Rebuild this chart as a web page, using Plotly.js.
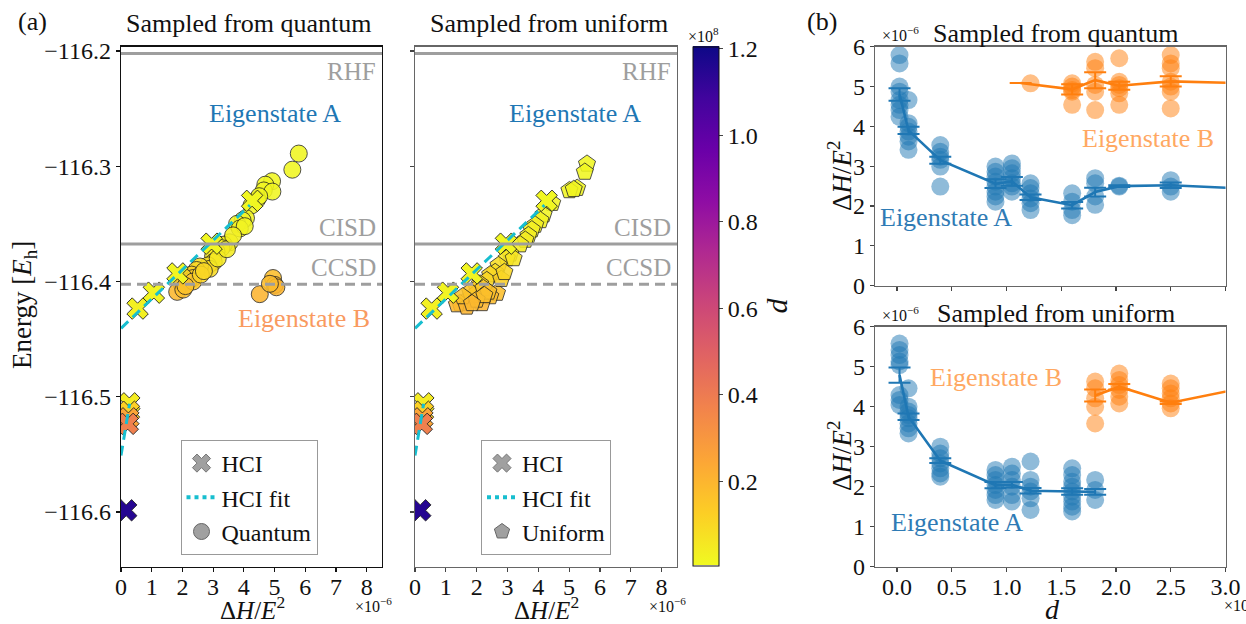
<!DOCTYPE html>
<html><head><meta charset="utf-8">
<script src="https://cdn.plot.ly/plotly-3.0.1.min.js"></script>
<style>html,body{margin:0;padding:0;background:#fff}#chart{width:1246px;height:624px}</style>
</head><body><div id="chart"></div>
<script>
// ---------- Panel (a): energies vs ΔH/E² (x in units of 1e-6, d in units of 1e8) ----------
const refRHF = -116.2021;
const refCISD = -116.3675;
const refCCSD = -116.4024;

const hciX = [0.54, 1.07, 1.84, 2.95, 4.27, 0.27, 0.26, 0.24, 0.22, 0.17];
const hciY = [-116.4235, -116.4097, -116.393, -116.3672, -116.330, -116.5057, -116.513, -116.5187, -116.5235, -116.5985];
const hciD = [0.03, 0.02, 0.015, 0.012, 0.01, 0.04, 0.12, 0.25, 0.38, 1.15];

const fitAX = [0, 4.2];
const fitAY = [-116.4406, -116.3338];
const fitBX = [0, 0.28];
const fitBY = [-116.551, -116.506];

const qX = [5.79,5.58,4.92,4.70,4.65,4.93,4.43,4.25,4.50,4.07,3.96,3.78,3.87,4.03,3.54,3.35,3.27,3.11,3.00,3.02,2.84,2.89,2.57,2.46,2.30,2.35,2.19,2.03,1.97,1.83,2.03,2.35,2.60,3.15,3.45,3.65,2.70,2.10,
            4.52,4.95,5.01,5.06,4.85];
const qY = [-116.289,-116.303,-116.313,-116.316,-116.321,-116.322,-116.329,-116.334,-116.326,-116.345,-116.347,-116.350,-116.354,-116.352,-116.366,-116.368,-116.371,-116.374,-116.378,-116.383,-116.386,-116.389,-116.387,-116.390,-116.394,-116.397,-116.400,-116.396,-116.402,-116.409,-116.407,-116.400,-116.394,-116.380,-116.372,-116.360,-116.391,-116.404,
            -116.411,-116.397,-116.403,-116.405,-116.402];
const qD = [0.01,0.01,0.01,0.01,0.012,0.01,0.015,0.015,0.01,0.02,0.02,0.02,0.025,0.02,0.03,0.035,0.04,0.05,0.06,0.07,0.08,0.09,0.08,0.10,0.12,0.13,0.14,0.10,0.15,0.19,0.17,0.15,0.11,0.05,0.04,0.03,0.10,0.16,
            0.20,0.17,0.19,0.20,0.18];

const uX = [5.58,5.51,5.26,5.01,5.15,4.45,4.17,4.07,3.90,3.79,3.68,3.58,3.41,3.09,2.98,2.71,2.60,2.44,2.33,2.11,2.01,2.66,2.44,2.17,1.90,1.68,1.46,1.36,1.79,2.22,2.38,1.68,1.55,2.00,2.25,1.85,2.80,3.20,2.90];
const uY = [-116.298,-116.305,-116.319,-116.321,-116.320,-116.332,-116.342,-116.347,-116.351,-116.355,-116.360,-116.364,-116.368,-116.376,-116.380,-116.386,-116.392,-116.394,-116.399,-116.402,-116.406,-116.410,-116.413,-116.419,-116.412,-116.416,-116.419,-116.420,-116.409,-116.406,-116.409,-116.422,-116.413,-116.416,-116.412,-116.419,-116.398,-116.380,-116.392];
const uD = [0.01,0.01,0.015,0.015,0.015,0.02,0.02,0.025,0.03,0.03,0.035,0.04,0.04,0.05,0.06,0.08,0.08,0.10,0.10,0.12,0.13,0.17,0.18,0.20,0.16,0.17,0.18,0.19,0.15,0.14,0.16,0.20,0.16,0.18,0.17,0.19,0.12,0.06,0.10];

// ---------- Panel (b): ΔH/E² (×1e-6) vs d (×1e7) ----------
const qA_d = [0.024,0.106,0.396,0.9,1.05,1.22,1.6,1.81,2.03,2.5];
const qA_vals = [[5.79,5.58,5.0,4.87,4.66,4.54,4.41,4.24],[4.66,4.08,3.99,3.87,3.74,3.62,3.41],[3.53,3.36,3.24,3.16,2.99,2.49],
  [2.99,2.86,2.74,2.61,2.49,2.36,2.24,2.11],[3.07,2.95,2.82,2.7,2.57,2.49,2.36],[2.57,2.45,2.32,2.19,2.07,1.9],
  [2.32,2.11,1.9,1.77],[2.7,2.57,2.24,2.03],[2.51,2.49],[2.65,2.49,2.36]];
const qA_meanX = [0.024,0.106,0.396,0.9,1.05,1.22,1.6,1.81,2.03,2.5,3.4];
const qA_mean = [4.8,3.9,3.15,2.56,2.62,2.22,2.02,2.35,2.5,2.52,2.41];
const qA_err = [0.16,0.09,0.09,0.11,0.11,0.07,0.08,0.11,0.02,0.07,0];

const qB_d = [1.22,1.6,1.81,2.03,2.5];
const qB_vals = [[5.08],[5.08,5.0,4.91,4.87,4.54],[5.62,5.46,5.04,4.87,4.41],[5.71,5.12,5.04,4.96,4.83,4.54],[5.79,5.58,5.46,5.12,5.0,4.87,4.45]];
const qB_meanX = [1.13,1.6,1.81,2.03,2.5,3.4];
const qB_mean = [5.09,4.93,5.16,5.02,5.13,5.07];
const qB_err = [0,0.13,0.2,0.1,0.13,0];

const uA_d = [0.024,0.106,0.396,0.9,1.05,1.22,1.6,1.81];
const uA_vals = [[5.58,5.42,5.29,5.13,5.04,4.29,4.17,4.04],[4.46,4.0,3.88,3.79,3.71,3.58,3.46,3.33],[3.0,2.83,2.71,2.58,2.46,2.33,2.25],
  [2.42,2.29,2.17,2.04,1.92,1.79,1.67],[2.5,2.33,2.17,2.0,1.79,1.63],[2.63,2.17,2.0,1.88,1.71,1.42],
  [2.46,2.29,2.125,2.0,1.88,1.75,1.63,1.5,1.38],[2.17,1.92,1.67]];
const uA_meanX = [0.024,0.106,0.396,0.9,1.05,1.22,1.6,1.81];
const uA_mean = [4.79,3.75,2.65,2.04,2.05,1.9,1.88,1.87];
const uA_err = [0.19,0.08,0.06,0.08,0.07,0.07,0.08,0.07];

const uB_d = [1.81,2.03,2.5];
const uB_vals = [[4.63,4.46,4.21,4.0,3.58],[4.83,4.67,4.54,4.42,4.25,4.08],[4.58,4.46,4.33,4.21,4.08,3.96]];
const uB_meanX = [1.81,2.03,2.5,3.4];
const uB_mean = [4.28,4.5,4.1,4.6];
const uB_err = [0.15,0.07,0.03,0];

// ---------- styling ----------
const W = 1246, H = 624;
const FONT = 'Liberation Serif, Times New Roman, serif';
const BLUE = '#1f77b4', ORANGE = '#ff7f0e', CYAN = '#17becf', REFGRAY = '#9e9e9e';
const plasmaR = [[0,'#f0f921'],[0.1,'#fcce25'],[0.2,'#fca636'],[0.3,'#f2844b'],[0.4,'#e16462'],[0.5,'#cc4778'],[0.6,'#b12a90'],[0.7,'#8f0da4'],[0.8,'#6a00a8'],[0.9,'#41049d'],[1,'#0d0887']];
const px = v => v / W, py = v => 1 - v / H;

function flat(ds, vals) {
  const x = [], y = [];
  ds.forEach((d, i) => vals[i].forEach(v => { x.push(d); y.push(v); }));
  return {x, y};
}

const traces = [];
function panelA(xa, ya, sx, sy, sd, symbol, legendName, legendId) {
  traces.push({x: sx, y: sy, xaxis: xa, yaxis: ya, type: 'scatter', mode: 'markers', showlegend: false,
    marker: {symbol: symbol, size: symbol === 'pentagon' ? 18 : 17, color: sd, coloraxis: 'coloraxis', opacity: 0.88, line: {color: '#222', width: 0.9}}});
  traces.push({x: hciX, y: hciY, xaxis: xa, yaxis: ya, type: 'scatter', mode: 'markers', showlegend: false,
    marker: {symbol: 'x', size: 19, color: hciD, coloraxis: 'coloraxis', line: {color: '#222', width: 0.9}}});
  traces.push({x: fitAX, y: fitAY, xaxis: xa, yaxis: ya, type: 'scatter', mode: 'lines', showlegend: false,
    line: {color: CYAN, width: 3, dash: '10px,6px'}});
  traces.push({x: fitBX, y: fitBY, xaxis: xa, yaxis: ya, type: 'scatter', mode: 'lines', showlegend: false,
    line: {color: CYAN, width: 3, dash: '10px,6px'}});
  // legend entries
  traces.push({x: [null], y: [null], xaxis: xa, yaxis: ya, type: 'scatter', mode: 'markers', name: 'HCI', legend: legendId, legendgroup: legendId + 'a',
    marker: {symbol: 'x', size: 16, color: 'rgba(128,128,128,0.75)', line: {color: '#777', width: 1}}});
  traces.push({x: [null], y: [null], xaxis: xa, yaxis: ya, type: 'scatter', mode: 'lines', name: 'HCI fit', legend: legendId, legendgroup: legendId + 'b',
    line: {color: CYAN, width: 4, dash: 'dot'}});
  traces.push({x: [null], y: [null], xaxis: xa, yaxis: ya, type: 'scatter', mode: 'markers', name: legendName, legend: legendId, legendgroup: legendId + 'c',
    marker: {symbol: symbol, size: 16, color: 'rgba(150,150,150,0.9)', line: {color: '#666', width: 1}}});
}
panelA('x', 'y', qX, qY, qD, 'circle', 'Quantum', 'legend');
panelA('x2', 'y2', uX, uY, uD, 'pentagon', 'Uniform', 'legend2');

function panelB(xa, ya, ds, vals, mx, my, me, color) {
  const f = flat(ds, vals);
  traces.push({x: f.x, y: f.y, xaxis: xa, yaxis: ya, type: 'scatter', mode: 'markers', showlegend: false,
    marker: {size: 18, color: color, opacity: 0.5}});
  traces.push({x: mx, y: my, xaxis: xa, yaxis: ya, type: 'scatter', mode: 'lines', showlegend: false,
    line: {color: color, width: 2.6},
    error_y: {type: 'data', array: me, visible: true, color: color, thickness: 2, width: 11}});
}
panelB('x3', 'y3', qA_d, qA_vals, qA_meanX, qA_mean, qA_err, BLUE);
panelB('x3', 'y3', qB_d, qB_vals, qB_meanX, qB_mean, qB_err, ORANGE);
panelB('x4', 'y4', uA_d, uA_vals, uA_meanX, uA_mean, uA_err, BLUE);
panelB('x4', 'y4', uB_d, uB_vals, uB_meanX, uB_mean, uB_err, ORANGE);

const tickFont = {family: FONT, size: 24, color: '#111'};
const eRange = [-116.6477, -116.1963];
const eTicks = [-116.6, -116.5, -116.4, -116.3, -116.2];
const aTicks = [0, 1, 2, 3, 4, 5, 6, 7, 8];
const bTicks = [0, 0.5, 1.0, 1.5, 2.0, 2.5, 3.0];
const yTicksB = [0, 1, 2, 3, 4, 5, 6];

function ax(o) {
  return Object.assign({showgrid: false, zeroline: false, showline: true, mirror: true, linewidth: 1.3,
    ticks: 'outside', ticklen: 4, tickwidth: 1.2, tickfont: tickFont, fixedrange: true}, o);
}
const yDomA = [py(567), py(46.7)];

const layout = {
  width: W, height: H, margin: {l: 0, r: 0, t: 0, b: 0},
  paper_bgcolor: '#fff', plot_bgcolor: '#fff',
  font: {family: FONT, color: '#111'},
  xaxis: ax({domain: [px(121), px(382)], range: [0, 8.5], anchor: 'y', tickvals: aTicks, linecolor: '#111', tickcolor: '#111', ticklabelstandoff: -6}),
  yaxis: ax({domain: yDomA, range: eRange, anchor: 'x', tickvals: eTicks, tickformat: '.1f', linecolor: '#111', tickcolor: '#111'}),
  xaxis2: ax({domain: [px(415), px(677)], range: [0, 8.5], anchor: 'y2', tickvals: aTicks, linecolor: '#666', tickcolor: '#444', ticklabelstandoff: -6}),
  yaxis2: ax({domain: yDomA, range: eRange, anchor: 'x2', tickvals: eTicks, showticklabels: false, linecolor: '#666', tickcolor: '#444'}),
  xaxis3: ax({domain: [px(875), px(1225.5)], range: [-0.2, 3.0], anchor: 'y3', tickvals: bTicks, showticklabels: false, linecolor: '#666', tickcolor: '#444'}),
  yaxis3: ax({domain: [py(285.7), py(46.7)], range: [0, 6], anchor: 'x3', tickvals: yTicksB, linecolor: '#666', tickcolor: '#444'}),
  xaxis4: ax({domain: [px(875), px(1225.5)], range: [-0.2, 3.0], anchor: 'y4', tickvals: bTicks, tickformat: '.1f', linecolor: '#666', tickcolor: '#444', ticklabelstandoff: -6}),
  yaxis4: ax({domain: [py(566.7), py(326.7)], range: [0, 6], anchor: 'x4', tickvals: yTicksB, linecolor: '#666', tickcolor: '#444'}),
  coloraxis: {colorscale: plasmaR, cmin: 0.005, cmax: 1.205,
    colorbar: {x: px(693), xanchor: 'left', xpad: 0, ypad: 0, y: py(565.5), yanchor: 'bottom', len: (565.5 - 46.7) / H, lenmode: 'fraction',
      thickness: 26, thicknessmode: 'pixels', outlinewidth: 1, outlinecolor: '#111',
      tickvals: [0.2, 0.4, 0.6, 0.8, 1.0, 1.2], tickformat: '.1f', ticks: 'outside', ticklen: 4, tickfont: tickFont,
      title: {text: '<i>d</i>', side: 'right', font: {family: FONT, size: 30}}}},
  legend: {x: px(249), y: py(440), xanchor: 'center', yanchor: 'top', bgcolor: '#fff', bordercolor: '#999', borderwidth: 1,
    font: {family: FONT, size: 24, color: '#111'}, tracegroupgap: 0, traceorder: 'grouped', itemwidth: 30},
  legend2: {x: px(546), y: py(440), xanchor: 'center', yanchor: 'top', bgcolor: '#fff', bordercolor: '#999', borderwidth: 1,
    font: {family: FONT, size: 24, color: '#111'}, tracegroupgap: 0, traceorder: 'grouped', itemwidth: 30},
  shapes: [],
  annotations: []
};

['', '2'].forEach(s => {
  const xd = 'x' + s + ' domain', yr = 'y' + s;
  [[refRHF, 'solid'], [refCISD, 'solid'], [refCCSD, '10px,6px']].forEach(([v, dash]) => {
    layout.shapes.push({type: 'line', xref: xd, yref: yr, x0: 0, x1: 1, y0: v, y1: v, line: {color: REFGRAY, width: 3, dash: dash}});
  });
  const refFont = {family: FONT, size: 25, color: REFGRAY};
  layout.annotations.push({xref: xd, yref: yr, x: 0.985, y: refRHF, xanchor: 'right', yanchor: 'top', yshift: -3, text: 'RHF', showarrow: false, font: refFont});
  layout.annotations.push({xref: xd, yref: yr, x: 0.985, y: refCISD, xanchor: 'right', yanchor: 'bottom', yshift: 1, text: 'CISD', showarrow: false, font: refFont});
  layout.annotations.push({xref: xd, yref: yr, x: 0.985, y: refCCSD, xanchor: 'right', yanchor: 'bottom', yshift: 1, text: 'CCSD', showarrow: false, font: refFont});
});

function txt(x, y, text, size, color, extra) {
  layout.annotations.push(Object.assign({xref: 'paper', yref: 'paper', x: px(x), y: py(y), text: text, showarrow: false,
    xanchor: 'center', yanchor: 'middle', font: {family: FONT, size: size, color: color || '#111'}}, extra || {}));
}
txt(32, 22, '(a)', 26);
txt(822, 22, '(b)', 26);
txt(249, 24, 'Sampled from quantum', 26);
txt(549, 24, 'Sampled from uniform', 26);
txt(1056, 33, 'Sampled from quantum', 26);
txt(1056, 313, 'Sampled from uniform', 26);
txt(343, 113, 'Eigenstate A', 26, BLUE, {xanchor: 'right'});
txt(643, 113, 'Eigenstate A', 26, BLUE, {xanchor: 'right'});
txt(372, 318, 'Eigenstate B', 26, '#f99a5f', {xanchor: 'right'});
txt(1216, 138, 'Eigenstate B', 26, '#ffa862', {xanchor: 'right'});
txt(878, 217, 'Eigenstate A', 26, '#2f7bb5', {xanchor: 'left'});
txt(928, 377, 'Eigenstate B', 26, '#ffa862', {xanchor: 'left'});
txt(889, 522, 'Eigenstate A', 26, '#2f7bb5', {xanchor: 'left'});
txt(24, 305, 'Energy [<i>E</i><sub>h</sub>]', 27, '#111', {textangle: -90});
txt(252, 608, 'Δ<i>H</i>/<i>E</i><sup>2</sup>', 25);
txt(546, 608, 'Δ<i>H</i>/<i>E</i><sup>2</sup>', 25);
txt(840, 176, 'Δ<i>H</i>/<i>E</i><sup>2</sup>', 27, '#111', {textangle: -90});
txt(840, 456, 'Δ<i>H</i>/<i>E</i><sup>2</sup>', 27, '#111', {textangle: -90});
txt(1052, 609, '<i>d</i>', 28);
txt(373, 605, '×10<sup>−6</sup>', 16);
txt(667, 605, '×10<sup>−6</sup>', 16);
txt(900, 34, '×10<sup>−6</sup>', 16);
txt(900, 314, '×10<sup>−6</sup>', 16);
txt(703, 35, '×10<sup>8</sup>', 16);
txt(1222, 604, '×10<sup>7</sup>', 16, '#111', {xanchor: 'left'});

Plotly.newPlot('chart', traces, layout, {displayModeBar: false, staticPlot: true});
</script>
</body></html>
